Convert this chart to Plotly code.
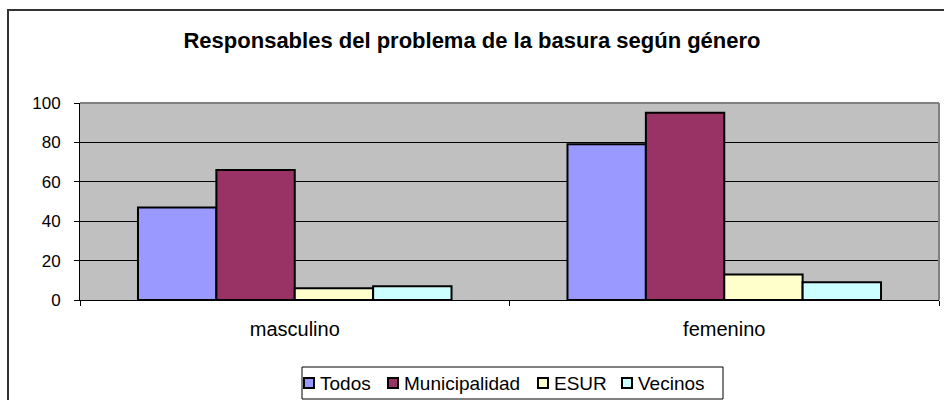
import plotly.graph_objects as go

# Data
generos = ["masculino", "femenino"]
todos = [47, 79]
municipalidad = [66, 95]
esur = [6, 13]
vecinos = [7, 9]
y_ticks = [0, 20, 40, 60, 80, 100]

series = [
    ("Todos", todos, "#9999FF"),
    ("Municipalidad", municipalidad, "#993366"),
    ("ESUR", esur, "#FFFFCC"),
    ("Vecinos", vecinos, "#CCFFFF"),
]

W, H = 944, 400
ML, MR, MT, MB = 80, 5, 103, 100
PW, PH = W - ML - MR, H - MT - MB


def px_x(x):
    return (x - ML) / PW


def px_y(y):
    return (H - MB - y) / PH


FONT = "Liberation Sans, Arial, sans-serif"

fig = go.Figure()
for name, vals, color in series:
    fig.add_trace(go.Bar(
        name=name, x=generos, y=vals,
        marker=dict(color=color, line=dict(color="black", width=2)),
        showlegend=False,
    ))

shapes = [
    # plot area frame (top and right edges)
    dict(type="line", xref="paper", yref="paper", x0=0, x1=1, y0=1, y1=1,
         line=dict(color="#808080", width=2), layer="above"),
    dict(type="line", xref="paper", yref="paper", x0=1, x1=1, y0=0, y1=1,
         line=dict(color="#808080", width=2), layer="above"),
    # outer chart border
    dict(type="rect", xref="paper", yref="paper",
         x0=px_x(8), x1=px_x(W + 20), y0=px_y(H + 20), y1=px_y(10),
         line=dict(color="#333333", width=2), layer="above"),
    # legend box
    dict(type="rect", xref="paper", yref="paper",
         x0=px_x(302), x1=px_x(723), y0=px_y(399), y1=px_y(367),
         line=dict(color="black", width=1), fillcolor="white", layer="above"),
]
annotations = []

# compact legend: small swatch followed closely by the series name
swatch_left = [304, 388, 538, 622]
text_left = [318, 402, 552, 636]
LEG_Y = 383
for (name, _, color), sx, tx in zip(series, swatch_left, text_left):
    shapes.append(dict(
        type="rect", xref="paper", yref="paper",
        x0=px_x(sx), x1=px_x(sx + 10), y0=px_y(LEG_Y + 5), y1=px_y(LEG_Y - 5),
        line=dict(color="black", width=2), fillcolor=color, layer="above",
    ))
    annotations.append(dict(
        text=name, xref="paper", yref="paper",
        x=px_x(tx), y=px_y(LEG_Y), xanchor="left", yanchor="middle",
        showarrow=False, font=dict(family=FONT, size=19, color="black"),
    ))

fig.update_layout(
    width=W, height=H,
    margin=dict(l=ML, r=MR, t=MT, b=MB, pad=0, autoexpand=False),
    paper_bgcolor="white",
    plot_bgcolor="#C0C0C0",
    barmode="group",
    bargap=0.27,
    bargroupgap=0,
    font=dict(family=FONT, size=17, color="black"),
    title=dict(
        text="<b>Responsables del problema de la basura según género</b>",
        x=0.5, xref="container", xanchor="center",
        y=1 - 40 / H, yref="container", yanchor="middle",
        font=dict(family=FONT, size=22, color="black"),
    ),
    showlegend=False,
    xaxis=dict(
        type="category",
        showline=True, linecolor="black", linewidth=1,
        ticks="outside", ticklen=5, tickcolor="black",
        tickson="boundaries",
        showgrid=False,
        ticklabelstandoff=11,
        tickfont=dict(family=FONT, size=20),
    ),
    yaxis=dict(
        range=[0, 100],
        tickvals=y_ticks,
        showline=True, linecolor="black", linewidth=1,
        ticks="outside", ticklen=5, tickcolor="black",
        showgrid=True, gridcolor="black", gridwidth=1,
        zeroline=False,
        ticklabelstandoff=10,
        tickfont=dict(family=FONT, size=17),
    ),
    shapes=shapes,
    annotations=annotations,
)

fig.write_html("out.html")
